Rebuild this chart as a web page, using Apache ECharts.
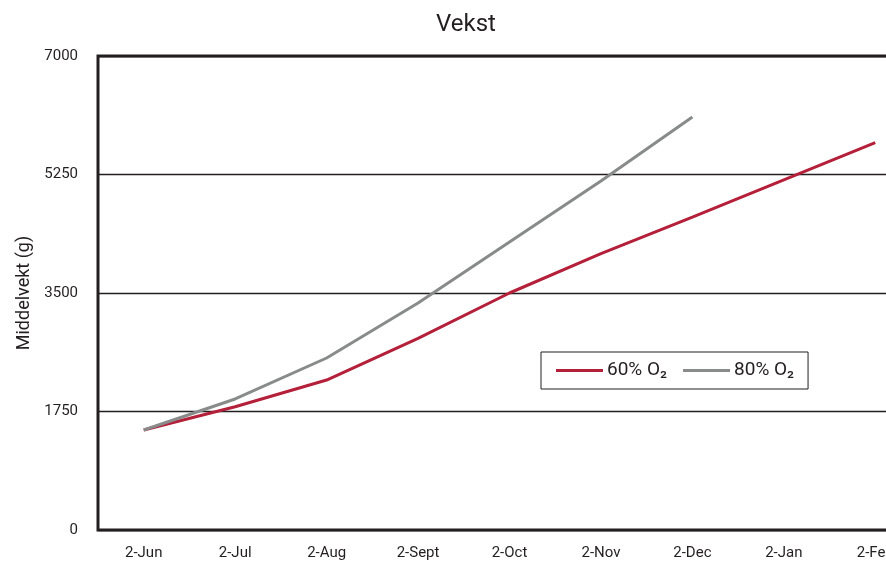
<!DOCTYPE html>
<html><head><meta charset="utf-8">
<script src="https://cdn.jsdelivr.net/npm/echarts@6/dist/echarts.min.js"></script>
<style>html,body{margin:0;padding:0;background:#fff;overflow:hidden;width:886px;height:563px}#c{width:960px;height:563px}</style>
</head><body><div id="c"></div>
<script>
const categories = ['2-Jun','2-Jul','2-Aug','2-Sept','2-Oct','2-Nov','2-Dec','2-Jan','2-Feb'];
const series60 = [1477, 1820, 2215, 2830, 3500, 4080, 4620, 5170, 5720];
const series80 = [1477, 1935, 2540, 3352, 4253, 5154, 6099, null, null];
const yTicks = [0, 1750, 3500, 5250, 7000];
const FONT = 'Roboto, sans-serif';
const DARK = '#231f20';
const chart = echarts.init(document.getElementById('c'));
chart.setOption({
  animation: false,
  backgroundColor: '#fff',
  title: { text: 'Vekst', left: 461, top: 8, textAlign: 'center',
    textStyle: { fontFamily: FONT, fontSize: 24, fontWeight: 'normal', color: DARK } },
  legend: {
    left: 541, top: 352, orient: 'horizontal',
    borderColor: DARK, borderWidth: 1, padding: [9, 14, 9, 15],
    itemWidth: 47, itemHeight: 3, itemGap: 16, icon: 'rect',
    textStyle: { fontFamily: FONT, fontSize: 19, color: DARK, padding: [0, 0, 0, -1] },
    data: ['60% O₂', '80% O₂']
  },
  grid: { left: 98, top: 56, bottom: 33, right: 39, show: true,
    borderColor: DARK, borderWidth: 3, containLabel: false },
  xAxis: {
    type: 'category', data: categories, boundaryGap: true,
    axisLine: { show: false }, axisTick: { show: false },
    axisLabel: { interval: 0, margin: 16, fontFamily: FONT, fontSize: 15, color: DARK },
    splitLine: { show: false }
  },
  yAxis: {
    type: 'value', min: yTicks[0], max: yTicks[yTicks.length - 1], interval: 1750,
    name: 'Middelvekt (g)', nameLocation: 'middle', nameGap: 62, nameRotate: 90,
    nameTextStyle: { fontFamily: FONT, fontSize: 18, color: DARK },
    axisLine: { show: false }, axisTick: { show: false },
    axisLabel: { margin: 20, fontFamily: FONT, fontSize: 15, color: DARK,
      formatter: v => String(v) },
    splitLine: { show: true, lineStyle: { color: DARK, width: 1.3 } }
  },
  series: [
    { name: '60% O₂', type: 'line', data: series60, showSymbol: false, symbol: 'none',
      lineStyle: { color: '#b41f3a', width: 3 }, itemStyle: { color: '#b41f3a' } },
    { name: '80% O₂', type: 'line', data: series80, showSymbol: false, symbol: 'none',
      lineStyle: { color: '#898b8b', width: 3 }, itemStyle: { color: '#898b8b' } }
  ]
});
</script></body></html>
